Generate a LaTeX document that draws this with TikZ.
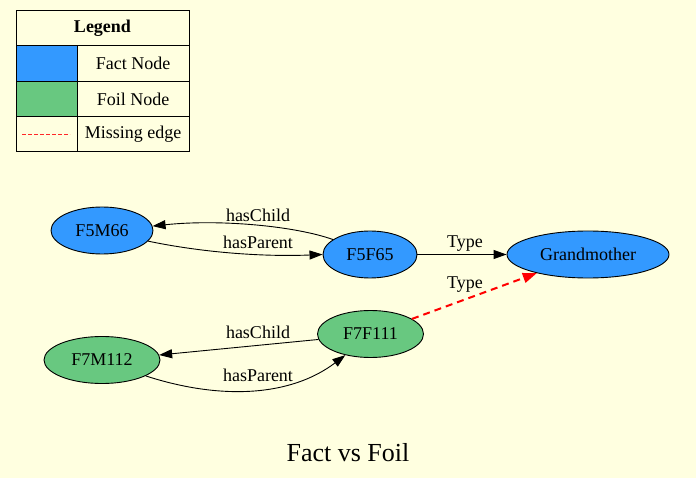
\documentclass[tikz,border=0pt]{standalone}
\usepackage{fontspec}
\setmainfont{Liberation Serif}
\usetikzlibrary{shapes.geometric,arrows.meta}
\definecolor{bg}{RGB}{255,255,224}
\definecolor{factblue}{RGB}{51,153,255}
\definecolor{foilgreen}{RGB}{104,200,128}
\definecolor{missred}{RGB}{255,40,40}
\begin{document}
\begin{tikzpicture}[x=1pt,y=-1pt,
  every node/.style={font=\fontsize{18}{21}\selectfont},
  gnode/.style={ellipse,draw=black,line width=0.9pt,inner sep=0pt,minimum height=47pt},
  fact/.style={gnode,fill=factblue},
  foil/.style={gnode,fill=foilgreen},
  edge/.style={line width=0.9pt,-{Triangle[length=13pt,width=9pt]}},
  missing/.style={line width=2pt,draw=red,dash pattern=on 7pt off 5pt,-{Triangle[length=14pt,width=10pt,fill=red]}},
  lbl/.style={inner sep=0pt},
  cell/.style={rectangle,draw=black,line width=0.9pt,inner sep=0pt,minimum height=35.3pt}
]
\useasboundingbox (0,0) rectangle (696,478);
\fill[bg] (0,0) rectangle (696,478);

% Legend
\node[cell,minimum width=173pt,font=\fontsize{18}{21}\selectfont\bfseries] (lhead) at (102.5,28.3) {Legend};
\node[cell,minimum width=61pt,fill=factblue] (lc1) at (46.5,63.6) {};
\node[cell,minimum width=112pt] (lt1) at (133,63.6) {Fact Node};
\node[cell,minimum width=61pt,fill=foilgreen] (lc2) at (46.5,98.9) {};
\node[cell,minimum width=112pt] (lt2) at (133,98.9) {Foil Node};
\node[cell,minimum width=61pt] (lc3) at (46.5,134.2) {};
\node[cell,minimum width=112pt] (lt3) at (133,134.2) {Missing edge};
\coordinate (ms) at (22,134);
\coordinate (me) at (70,134);
\draw[missred,line width=0.8pt,dash pattern=on 4pt off 2pt] (ms) -- (me);

% Graph nodes
\node[fact,minimum width=102pt] (f5m66) at (102,230.5) {F5M66};
\node[fact,minimum width=94pt] (f5f65) at (370,254.5) {F5F65};
\node[fact,minimum width=162pt] (gm) at (588,254.5) {Grandmother};
\node[foil,minimum width=116pt] (f7m112) at (102,360) {F7M112};
\node[foil,minimum width=106pt] (f7f111) at (370.5,334) {F7F111};

% Edges
\draw[edge] (f5f65.158) .. controls (295,226) and (220,219) .. (f5m66.5);
\draw[edge] (f5m66.-13) .. controls (200,252) and (260,257) .. (f5f65.west);
\draw[edge] (f5f65.east) -- (gm.west);
\draw[missing] (f7f111.20) -- (gm.-160);
\draw[edge] (f7f111.-174) -- (f7m112.5);
\draw[edge] (f7m112.-20) .. controls (220,400) and (290,397) .. (f7f111.-140);

% Edge labels
\node[lbl] (l1) at (258,215) {hasChild};
\node[lbl] (l2) at (258,242) {hasParent};
\node[lbl] (l3) at (465,244) {Type};
\node[lbl] (l4) at (465,285) {Type};
\node[lbl] (l5) at (258,332) {hasChild};
\node[lbl] (l6) at (258,375) {hasParent};

% Title
\node[lbl,font=\fontsize{26}{31}\selectfont] (title) at (348,453) {Fact vs Foil};
\end{tikzpicture}
\end{document}
